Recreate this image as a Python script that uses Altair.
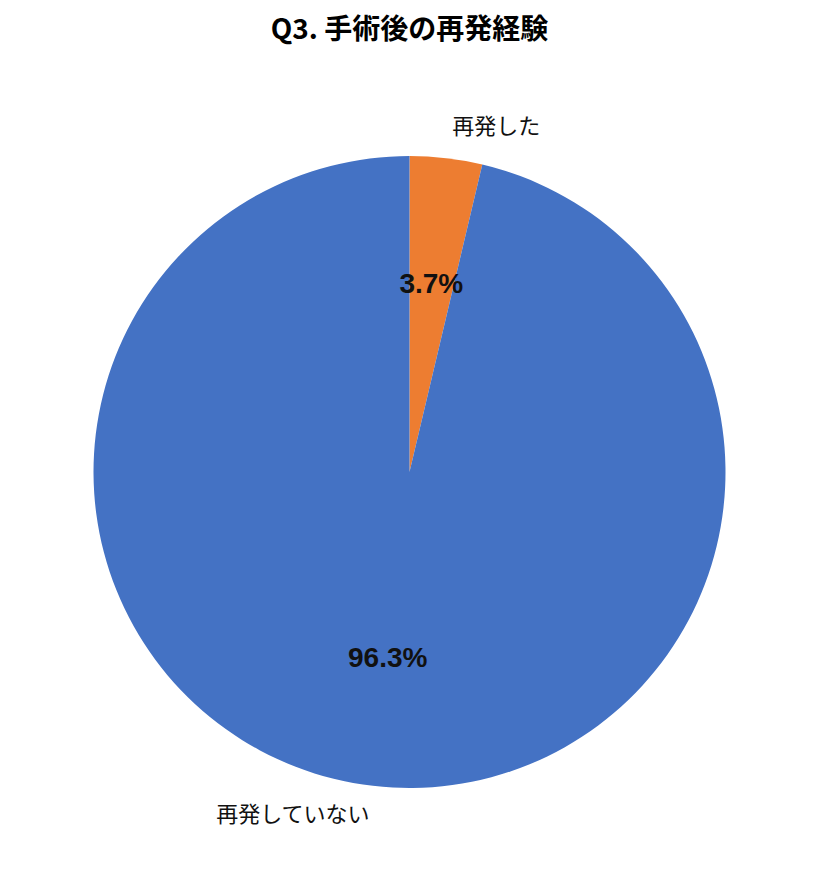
import altair as alt
import pandas as pd

# Q3. 手術後の再発経験
categories = ["再発した", "再発していない"]
shares = [3.7, 96.3]
pct_labels = ["3.7%", "96.3%"]
colors = ["#ED7D31", "#4472C4"]

df = pd.DataFrame({"category": categories, "share": shares, "pct": pct_labels, "order": [0, 1]})

R = 316
theta_scale = alt.Scale(domain=[0, 100])

base = alt.Chart(df).encode(
    theta=alt.Theta("share:Q", stack=True, scale=theta_scale),
    order=alt.Order("order:Q"),
)

pie = base.mark_arc(radius=R, stroke=None).encode(
    color=alt.Color("category:N", scale=alt.Scale(domain=categories, range=colors), legend=None)
)

pct = base.mark_text(
    radius=188, font="Liberation Sans", fontSize=28, fontWeight="bold", color="#111111"
).encode(text="pct:N")

# outside labels: mid-angle computed before filtering so each keeps its slice position
lab = alt.Chart(df).transform_window(
    cum="sum(share)", sort=[alt.SortField("order")]
).transform_calculate(
    mid=alt.datum.cum - alt.datum.share / 2
).encode(
    theta=alt.Theta("mid:Q", stack=None, scale=theta_scale),
    text="category:N",
)

label_top = lab.mark_text(
    radius=335, font="Noto Sans CJK JP", fontSize=22, align="left", baseline="bottom", dx=4, color="#111111"
).transform_filter(alt.datum.category == "再発した")

label_bottom = lab.mark_text(
    radius=345, font="Noto Sans CJK JP", fontSize=22, align="right", baseline="middle", color="#111111"
).transform_filter(alt.datum.category == "再発していない")

chart = alt.layer(pie, pct, label_top, label_bottom).properties(
    width=803,
    height=800,
    padding={"top": 9, "left": 0, "right": 0, "bottom": 0},
    title=alt.TitleParams(
        "Q3. 手術後の再発経験",
        font="Noto Sans CJK JP",
        fontSize=28,
        fontWeight="bold",
        color="#000000",
        anchor="middle",
        offset=27,
    ),
).configure_view(stroke=None)

chart.save("out.html", embed_options={"renderer": "svg", "actions": False})
